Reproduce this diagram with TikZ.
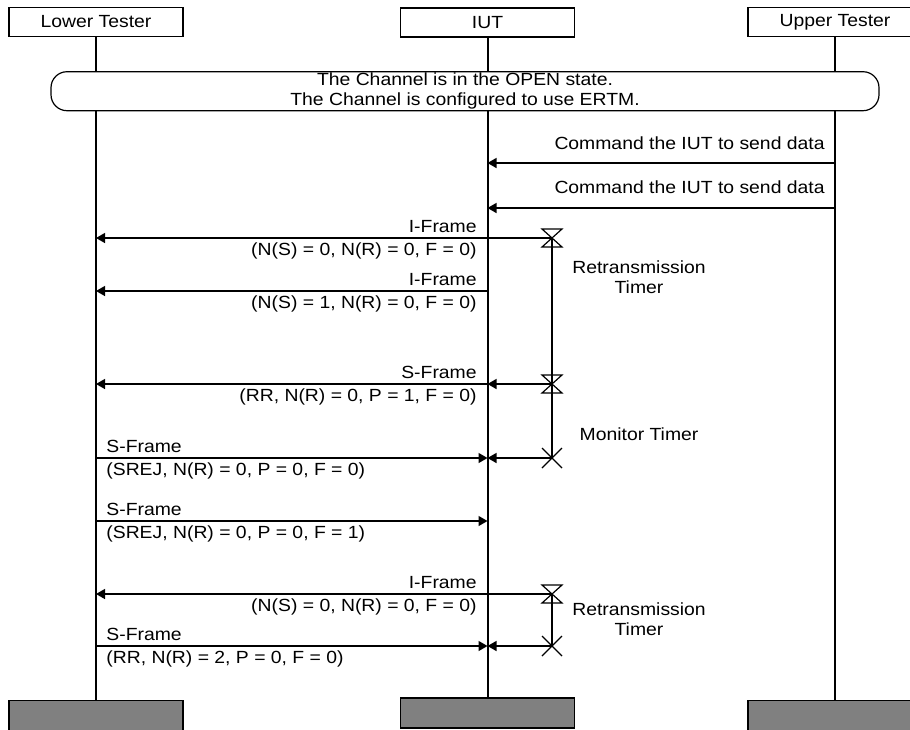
\documentclass[tikz,border=0pt]{standalone}
\usepackage{fontspec}
\setmainfont[FakeStretch=1.1]{Liberation Sans}
\usetikzlibrary{arrows.meta}
\definecolor{endgray}{RGB}{128,128,128}
\tikzset{
  hdr/.style={draw, line width=0.6pt, fill=white, minimum width=87pt, minimum height=14.5pt, inner sep=0pt},
  ftr/.style={draw, line width=0.6pt, fill=endgray, minimum width=87pt, minimum height=15pt, inner sep=0pt},
  statebox/.style={draw, line width=0.6pt, rounded corners=8pt, align=center, minimum width=414pt, minimum height=19.5pt, inner sep=0pt},
  life/.style={line width=1pt},
  msg/.style={-{Triangle[length=4.5pt, width=5pt]}, line width=0.7pt},
  tmr/.style={line width=0.6pt},
  lbl/.style={inner sep=0pt},
  tlbl/.style={inner sep=0pt, align=center, anchor=base},
}
% timer set (hourglass) and timer expiry (cross)
\newcommand{\tset}[1]{\draw[tmr, shift={(#1)}] (-10,-9) -- (10,-9) -- (-10,9) -- (10,9) -- cycle;}
\newcommand{\tstop}[1]{\draw[tmr, shift={(#1)}] (-10,-10) -- (10,10) (-10,10) -- (10,-10);}

\begin{document}
\begin{tikzpicture}[x=0.5pt, y=-0.5pt, font=\fontsize{8.8pt}{10pt}\selectfont]
  \useasboundingbox (0,0) rectangle (910,729);
  % instances
  \node[hdr] (lt) at (96,22) {Lower Tester};
  \node[hdr] (iut) at (487.5,22.5) {IUT};
  \node[hdr] (ut) at (835,22) {Upper Tester};
  \node[statebox] (state) at (465,91.2)
    {The Channel is in the OPEN state.\\The Channel is configured to use ERTM.};
  \node[ftr] (ltf) at (96,715.5) {};
  \node[ftr] (iutf) at (487.5,713) {};
  \node[ftr] (utf) at (835,715.5) {};
  % lifelines
  \foreach \a/\b in {lt/ltf, iut/iutf, ut/utf} {
    \draw[life] (\a) -- (\a |- state.north);
    \draw[life] (\a |- state.south) -- (\b);
  }
  % message levels
  \foreach \n/\y in {1/163,2/208,3/238,4/291,5/384,6/458,7/521,8/594,9/646} {
    \coordinate (lt\n) at (96,\y);
    \coordinate (iut\n) at (487.5,\y);
    \coordinate (ut\n) at (835,\y);
    \coordinate (tm\n) at (552,\y);
  }
  % upper tester commands
  \draw[msg] (ut1) -- (iut1);
  \node[lbl, anchor=base east] (c1) at (825,149) {Command the IUT to send data};
  \draw[msg] (ut2) -- (iut2);
  \node[lbl, anchor=base east] (c2) at (825,193) {Command the IUT to send data};
  % frames on the lower side
  \draw[msg] (tm3) -- (lt3);
  \node[lbl, anchor=base east] (l3a) at (477,232) {I-Frame};
  \node[lbl, anchor=base east] (l3b) at (477,255) {(N(S) = 0, N(R) = 0, F = 0)};
  \draw[msg] (iut4) -- (lt4);
  \node[lbl, anchor=base east] (l4a) at (477,285) {I-Frame};
  \node[lbl, anchor=base east] (l4b) at (477,308) {(N(S) = 1, N(R) = 0, F = 0)};
  \draw[msg] (iut5) -- (lt5);
  \draw[msg] (tm5) -- (iut5);
  \node[lbl, anchor=base east] (l5a) at (477,378) {S-Frame};
  \node[lbl, anchor=base east] (l5b) at (477,401) {(RR, N(R) = 0, P = 1, F = 0)};
  \draw[msg] (lt6) -- (iut6);
  \draw[msg] (tm6) -- (iut6);
  \node[lbl, anchor=base west] (l6a) at (106,452) {S-Frame};
  \node[lbl, anchor=base west] (l6b) at (106,475) {(SREJ, N(R) = 0, P = 0, F = 0)};
  \draw[msg] (lt7) -- (iut7);
  \node[lbl, anchor=base west] (l7a) at (106,515) {S-Frame};
  \node[lbl, anchor=base west] (l7b) at (106,538) {(SREJ, N(R) = 0, P = 0, F = 1)};
  \draw[msg] (tm8) -- (lt8);
  \node[lbl, anchor=base east] (l8a) at (477,588) {I-Frame};
  \node[lbl, anchor=base east] (l8b) at (477,611) {(N(S) = 0, N(R) = 0, F = 0)};
  \draw[msg] (lt9) -- (iut9);
  \draw[msg] (tm9) -- (iut9);
  \node[lbl, anchor=base west] (l9a) at (106,640) {S-Frame};
  \node[lbl, anchor=base west] (l9b) at (106,663) {(RR, N(R) = 2, P = 0, F = 0)};
  % timers
  \draw[tmr] (tm3) -- (tm6);
  \draw[tmr] (tm8) -- (tm9);
  \tset{tm3} \tset{tm5} \tset{tm8}
  \tstop{tm6} \tstop{tm9}
  \node[tlbl] (rt1) at (639,293) {Retransmission\\Timer};
  \node[tlbl] (mt) at (639,440) {Monitor Timer};
  \node[tlbl] (rt2) at (639,635) {Retransmission\\Timer};
\end{tikzpicture}
\end{document}
